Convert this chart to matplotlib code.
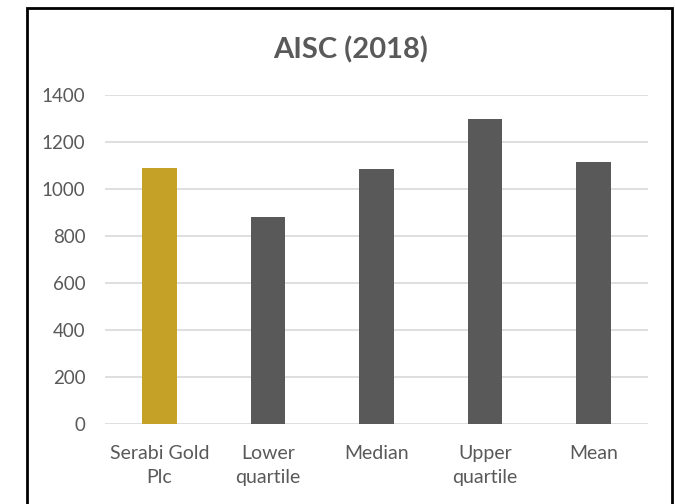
import matplotlib.pyplot as plt
from matplotlib.patches import Rectangle

# data
categories = ['Serabi Gold\nPlc', 'Lower\nquartile', 'Median', 'Upper\nquartile', 'Mean']
values = [1090, 880, 1085, 1297, 1113]
colors = ['#C5A227', '#595959', '#595959', '#595959', '#595959']
yticks = [0, 200, 400, 600, 800, 1000, 1200, 1400]

plt.rcParams['font.family'] = ['Lato', 'DejaVu Sans']

fig = plt.figure(figsize=(6.75, 5.04), dpi=100)
ax = fig.add_axes([105 / 675, 1 - 424 / 504, (648 - 105) / 675, (424 - 95) / 504])

x = range(len(categories))
ax.bar(x, values, width=0.32, color=colors, zorder=3)

ax.set_xlim(-0.5, len(categories) - 0.5)
ax.set_ylim(0, 1400)
ax.set_yticks(yticks)
ax.set_xticks(list(x))
ax.set_xticklabels(categories, fontsize=14, color='#595959', linespacing=1.5)
ax.tick_params(axis='y', labelsize=13.5, labelcolor='#595959', length=0, pad=14)
ax.tick_params(axis='x', length=0, pad=15)

ax.grid(axis='y', color='#D9D9D9', linewidth=1.2, zorder=0)
for s in ax.spines.values():
    s.set_visible(False)

fig.text(351 / 675, 1 - 50 / 504, 'AISC (2018)', ha='center', va='center',
         fontsize=21, fontweight='bold', color='#595959')

# outer frame
fig.patches.append(Rectangle((27 / 675, -0.01), (672 - 27) / 675, 1 - 8 / 504 + 0.01,
                             transform=fig.transFigure, fill=False,
                             edgecolor='black', linewidth=2))

fig.savefig('out.png', dpi=100)
